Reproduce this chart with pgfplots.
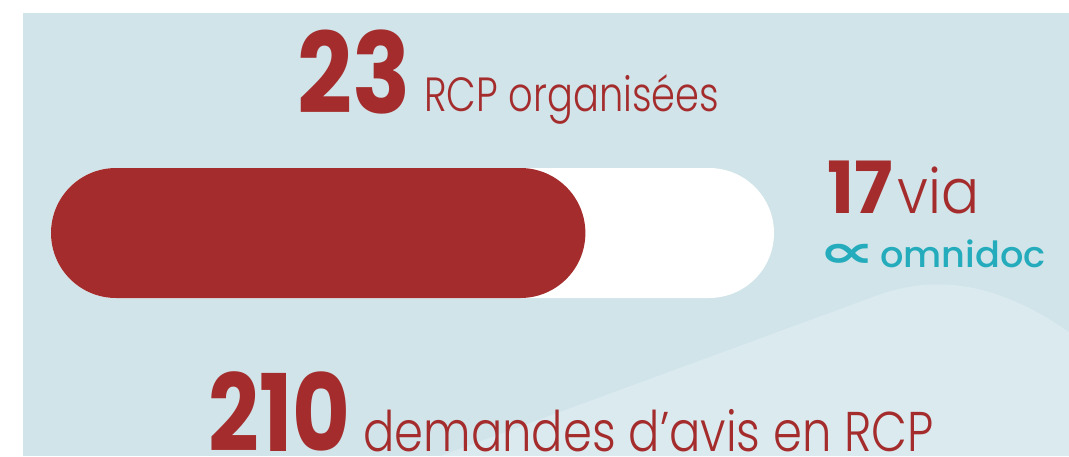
\documentclass[border=0pt]{standalone}
\usepackage{pgfplots}
\pgfplotsset{compat=1.18}
\usepackage{fontspec}
\setmainfont{Poppins}
\newfontfamily\poplight{Poppins}[UprightFont=* Light]
\newfontfamily\popmed{Poppins}[UprightFont=* Medium]
\newfontfamily\popbold{Poppins}[UprightFont=* Bold]
\newfontfamily\dejavu{DejaVu Sans}[UprightFont=* Bold]
\definecolor{bgblue}{HTML}{D0E4E9}
\definecolor{bglight}{HTML}{DAEAEE}
\definecolor{rcpred}{HTML}{A52C2C}
\definecolor{teal}{HTML}{24ACBC}
\begin{document}
\begin{tikzpicture}
\path[use as bounding box] (0pt,0pt) rectangle (534.5pt,228pt);
\fill[white] (0pt,0pt) rectangle (534.5pt,228pt);
\fill[bgblue] (11.5pt,0pt) rectangle (534.5pt,221.5pt);
\fill[bglight] (220pt,0pt) -- (435pt,79pt) .. controls (458pt,88pt) and (490pt,93pt) .. (534.5pt,62pt) -- (534.5pt,0pt) -- cycle;
\begin{axis}[
  at={(25.5pt,79pt)}, anchor=south west,
  scale only axis, width=361.5pt, height=65pt,
  xmin=0, xmax=23, ymin=0, ymax=1,
  axis lines=none, clip=false,
]
\addplot[fill=white, draw=none, rounded corners=32.5pt] coordinates {(11.5,0) (23,0) (23,1) (0,1) (0,0) (11.5,0)};
\addplot[fill=rcpred, draw=none, rounded corners=32.5pt] coordinates {(8.5,0) (17,0) (17,1) (0,1) (0,0) (8.5,0)};
\end{axis}
\node[anchor=base west, inner sep=0pt, text=rcpred, font=\popbold\fontsize{56}{56}\selectfont] at (148.5pt,171.5pt) {\scalebox{0.86}[1]{23}};
\node[anchor=base west, inner sep=0pt, text=rcpred, font=\poplight\fontsize{24}{24}\selectfont] at (212pt,172pt) {\scalebox{0.8}[1]{RCP organisées}};
\node[anchor=base west, inner sep=0pt, text=rcpred, font=\popbold\fontsize{36}{36}\selectfont] at (413.5pt,121.5pt) {17};
\node[anchor=base west, inner sep=0pt, text=rcpred, font=\poplight\fontsize{31}{31}\selectfont] at (448.5pt,121.5pt) {\scalebox{0.91}[1]{via}};
\node[anchor=base west, inner sep=0pt, text=teal, font=\dejavu\fontsize{23}{23}\selectfont] at (409pt,94.5pt) {\scalebox{1.75}[1]{∝}};
\node[anchor=base west, inner sep=0pt, text=teal, font=\popmed\fontsize{18}{18}\selectfont] at (440pt,94.5pt) {\scalebox{1.02}[1]{omnidoc}};
\node[anchor=base west, inner sep=0pt, text=rcpred, font=\popbold\fontsize{53.5}{53.5}\selectfont] at (104pt,2.5pt) {\scalebox{0.83}[1]{210}};
\node[anchor=base west, inner sep=0pt, text=rcpred, font=\poplight\fontsize{28}{28}\selectfont] at (181.5pt,2.5pt) {\scalebox{0.83}[1]{demandes d’avis en RCP}};
\end{tikzpicture}
\end{document}
